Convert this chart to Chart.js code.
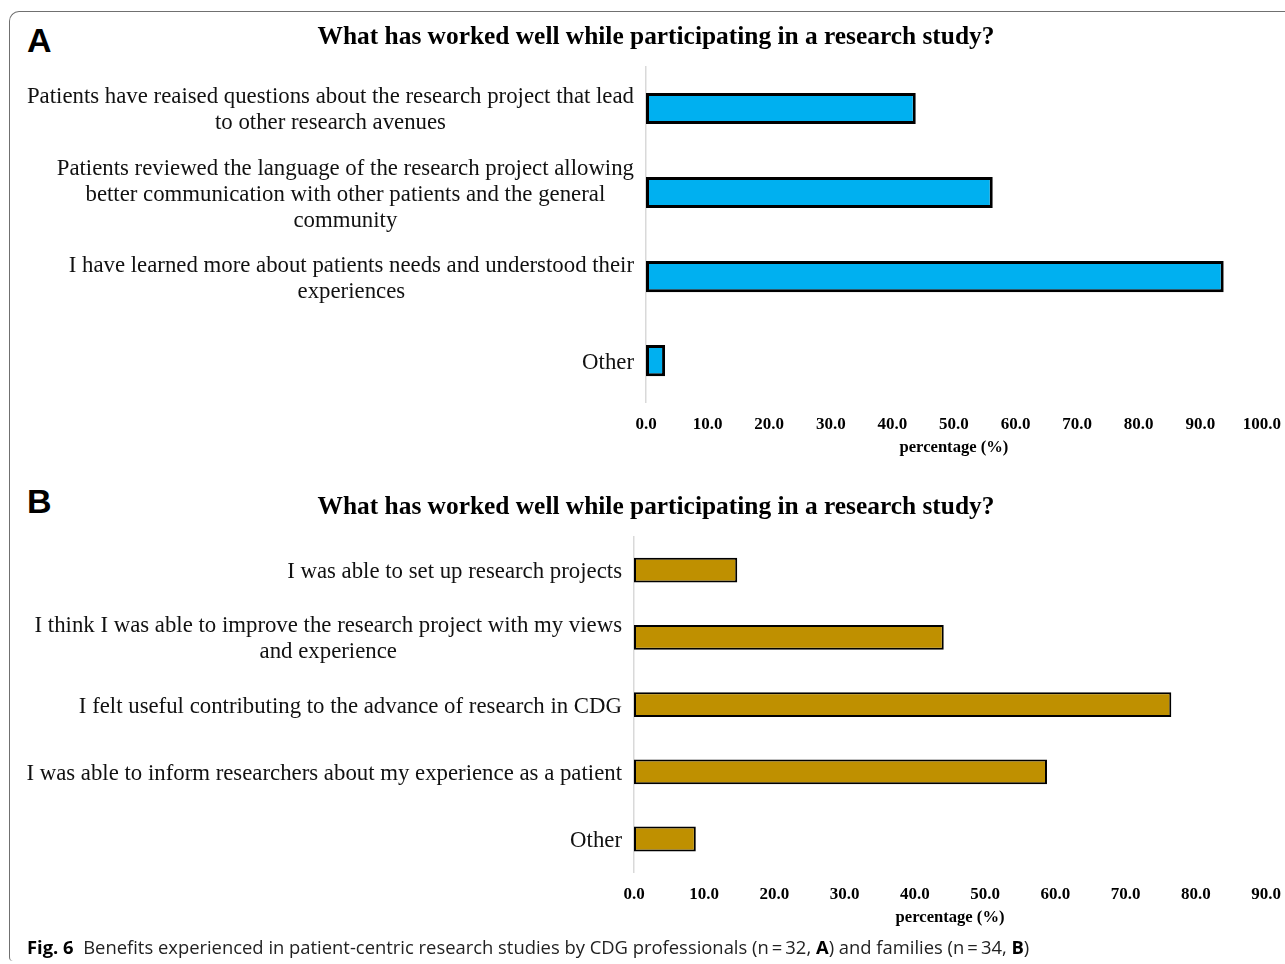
<!DOCTYPE html>
<html>
<head>
<meta charset="utf-8">
<script src="https://cdn.jsdelivr.net/npm/chart.js@4.4.0/dist/chart.umd.min.js"></script>
<style>
  html, body { margin: 0; padding: 0; background: #fff; }
  body { width: 1285px; height: 964px; position: relative; overflow: hidden; }
  .frame {
    position: absolute; left: 9px; top: 11px; width: 1400px; height: 949px;
    border-top: 1.5px solid #707070; border-left: 1.5px solid #707070;
    border-top-left-radius: 10px; border-bottom-left-radius: 4px;
  }
  .letter {
    position: absolute; left: 27px;
    font-family: "Liberation Sans", Arial, sans-serif; font-weight: bold;
    font-size: 34px; line-height: 1; color: #000;
  }
  .box { position: absolute; left: 0; width: 1293px; height: 465px; }
  .caption {
    position: absolute; left: 27px; top: 934px; white-space: nowrap;
    font-family: "Open Sans", "Noto Sans", sans-serif; font-size: 18.4px; color: #222;
  }
  .caption b { color: #000; }
</style>
</head>
<body>
<div class="frame"></div>
<div class="letter" style="top:23px">A</div>
<div class="letter" style="top:484px">B</div>
<div class="box" style="top:0"><canvas id="chartA"></canvas></div>
<div class="box" style="top:470px"><canvas id="chartB"></canvas></div>
<div class="caption"><b>Fig. 6</b>&nbsp; Benefits experienced in patient-centric research studies by CDG professionals (n&thinsp;=&thinsp;32, <b>A</b>) and families (n&thinsp;=&thinsp;34, <b>B</b>)</div>

<script>
const chartTitle = 'What has worked well while participating in a research study?';
const axisTitle = 'percentage (%)';

// panel A: professionals
const labelsA = [
  ['Patients have reaised questions about the research project that lead', 'to other research avenues'],
  ['Patients reviewed the language of the research project allowing', 'better communication with other patients and the general', 'community'],
  ['I have learned more about patients needs and understood their', 'experiences'],
  'Other'
];
const valuesA = [43.8, 56.3, 93.8, 3.1];
const maxA = 100;

// panel B: families
const labelsB = [
  'I was able to set up research projects',
  ['I think I was able to improve the research project with my views', 'and experience'],
  'I felt useful contributing to the advance of research in CDG',
  'I was able to inform researchers about my experience as a patient',
  'Other'
];
const valuesB = [14.7, 44.1, 76.5, 58.8, 8.8];
const maxB = 90;

const serif = '"Liberation Serif", "Times New Roman", serif';

// category labels: block right-aligned to the axis, lines centred inside the block
const wrappedLabels = {
  id: 'wrappedLabels',
  afterDraw(chart, args, opts) {
    const ctx = chart.ctx;
    const y = chart.scales.y;
    ctx.save();
    ctx.font = '22.8px ' + serif;
    ctx.fillStyle = '#111';
    ctx.textAlign = 'center';
    ctx.textBaseline = 'middle';
    chart.data.labels.forEach((label, i) => {
      const lines = Array.isArray(label) ? label : [label];
      const w = Math.max(...lines.map(l => ctx.measureText(l).width));
      const cx = chart.chartArea.left - opts.gap - w / 2;
      const cy = y.getPixelForValue(i) + 2;
      lines.forEach((l, k) => {
        ctx.fillText(l, cx, cy + (k - (lines.length - 1) / 2) * opts.lineHeight);
      });
    });
    ctx.restore();
  }
};

function makeChart(id, labels, values, max, color, border, axisLeft, padLeft, padRight) {
  return new Chart(document.getElementById(id), {
    type: 'bar',
    data: {
      labels: labels,
      datasets: [{
        data: values,
        backgroundColor: color,
        borderColor: '#000',
        borderWidth: border,
        borderSkipped: false,
        categoryPercentage: 1,
        barPercentage: 0.37
      }]
    },
    options: {
      indexAxis: 'y',
      responsive: true,
      maintainAspectRatio: false,
      animation: false,
      layout: { padding: { left: padLeft, right: padRight, top: 0, bottom: 0 } },
      scales: {
        x: {
          min: 0,
          max: max,
          grid: { display: false, drawTicks: false },
          border: { display: false },
          ticks: {
            stepSize: 10,
            padding: 12,
            color: '#000',
            font: { family: serif, size: 17, weight: 'bold' },
            callback: v => v.toFixed(1)
          },
          title: {
            display: true,
            text: axisTitle,
            color: '#000',
            padding: { top: -9, bottom: 7 },
            font: { family: serif, size: 16.6, weight: 'bold' }
          }
        },
        y: {
          grid: { display: false, drawTicks: false },
          border: { display: true, color: '#d9d9d9', width: 1.5 },
          ticks: { display: false },
          afterFit: s => { s.width = axisLeft - padLeft; }
        }
      },
      plugins: {
        legend: { display: false },
        tooltip: { enabled: false },
        title: {
          display: true,
          text: chartTitle,
          color: '#000',
          padding: { top: 22, bottom: 14 },
          font: { family: serif, size: 25.4, weight: 'bold' }
        },
        wrappedLabels: { gap: 12, lineHeight: 26 }
      }
    },
    plugins: [wrappedLabels]
  });
}

makeChart('chartA', labelsA, valuesA, maxA, '#00b0f0', 3, 646, 36, 17);
makeChart('chartB', labelsB, valuesB, maxB, '#bf9000', 2, 634, 33, 14);
</script>
</body>
</html>
